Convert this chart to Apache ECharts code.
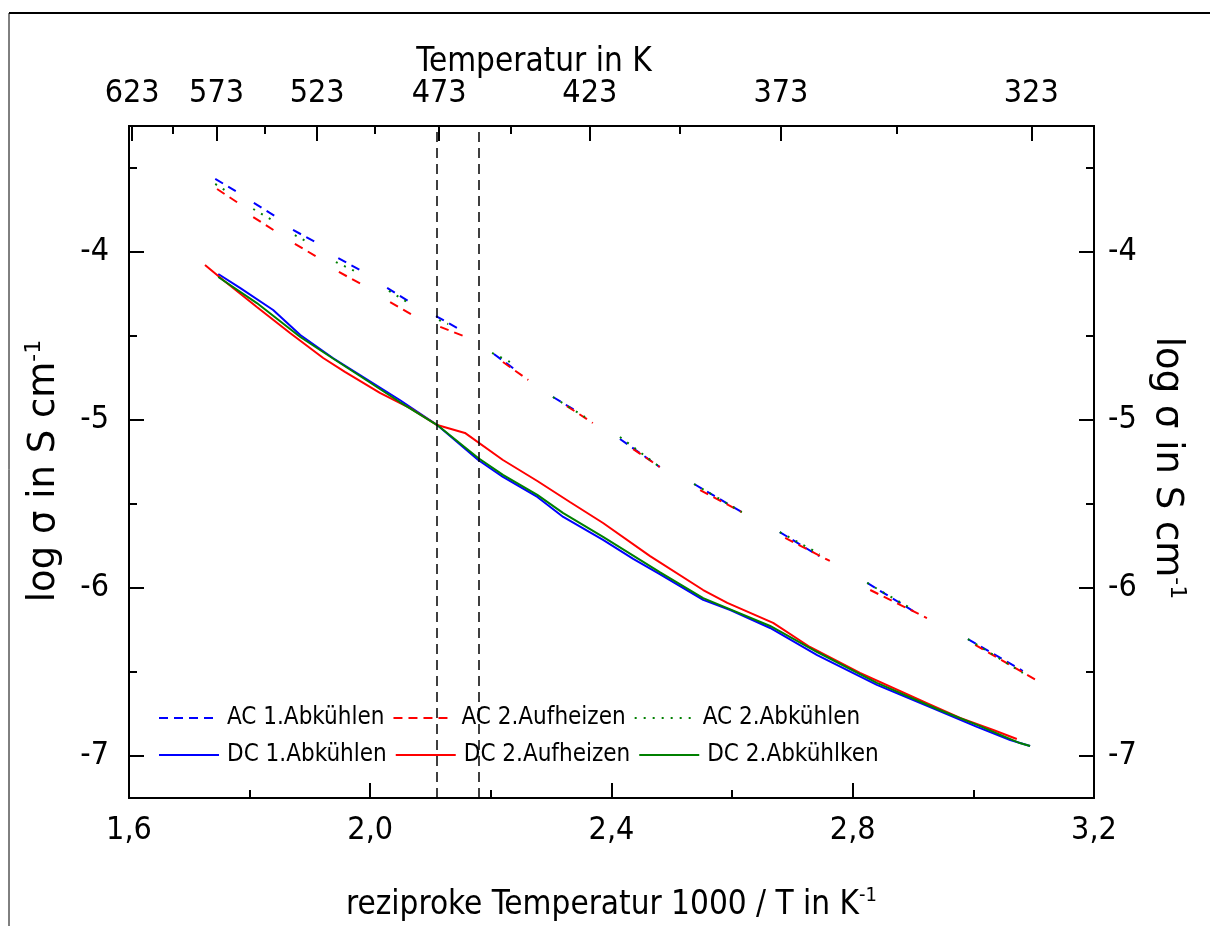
<!DOCTYPE html>
<html>
<head>
<meta charset="utf-8">
<script src="https://cdn.jsdelivr.net/npm/echarts@6/dist/echarts.min.js"></script>
<style>
html,body{margin:0;padding:0;background:#fff;}
#chart{width:1210px;height:926px;}
</style>
</head>
<body>
<div id="chart"></div>
<script>
// ---------- data (x = 1000/T in 1/K, y = log sigma) ----------
const seriesNames = ['AC 1.Abkühlen','AC 2.Aufheizen','AC 2.Abkühlen','DC 1.Abkühlen','DC 2.Aufheizen','DC 2.Abkühlken'];

// AC data: short measured runs, separated by null (gaps between temperature steps)
const ac1Abkuehlen = [
  [1.743,-3.565],[1.777,-3.637],null,
  [1.807,-3.708],[1.842,-3.786],null,
  [1.872,-3.869],[1.912,-3.946],null,
  [1.947,-4.036],[1.986,-4.113],null,
  [2.028,-4.214],[2.066,-4.298],null,
  [2.109,-4.381],[2.150,-4.464],null,
  [2.205,-4.607],[2.243,-4.708],null,
  [2.303,-4.863],[2.344,-4.952],null,
  [2.414,-5.113],[2.480,-5.280],null,
  [2.537,-5.381],[2.616,-5.548],null,
  [2.679,-5.667],[2.744,-5.810],null,
  [2.824,-5.970],[2.903,-6.143],null,
  [2.991,-6.304],[3.082,-6.494]
];
const ac2Aufheizen = [
  [1.746,-3.625],[1.781,-3.708],null,
  [1.806,-3.792],[1.842,-3.875],null,
  [1.875,-3.952],[1.915,-4.036],null,
  [1.948,-4.119],[1.991,-4.202],null,
  [2.033,-4.298],[2.073,-4.381],null,
  [2.116,-4.446],[2.159,-4.506],null,
  [2.220,-4.655],[2.262,-4.762],null,
  [2.326,-4.917],[2.369,-5.018],null,
  [2.436,-5.173],[2.480,-5.280],null,
  [2.547,-5.417],[2.616,-5.548],null,
  [2.688,-5.702],[2.762,-5.839],null,
  [2.829,-6.012],[2.923,-6.179],null,
  [3.003,-6.339],[3.104,-6.548]
];
const ac2Abkuehlen = [
  [1.743,-3.595],[1.761,-3.637],null,
  [1.806,-3.744],[1.840,-3.815],null,
  [1.875,-3.899],[1.893,-3.935],null,
  [1.943,-4.060],[1.981,-4.125],null,
  [2.031,-4.232],[2.064,-4.304],null,
  [2.114,-4.405],[2.129,-4.429],null,
  [2.202,-4.601],[2.232,-4.655],null,
  [2.303,-4.863],[2.356,-4.982],null,
  [2.414,-5.101],[2.480,-5.280],null,
  [2.537,-5.381],[2.616,-5.548],null,
  [2.679,-5.667],[2.745,-5.798],null,
  [2.824,-5.970],[2.895,-6.119],null,
  [2.991,-6.304],[3.082,-6.506]
];
const dc1Abkuehlen = [
  [1.748,-4.131],[1.784,-4.214],[1.839,-4.345],[1.884,-4.494],[1.938,-4.631],
  [1.983,-4.732],[2.049,-4.881],[2.111,-5.030],[2.179,-5.238],[2.220,-5.339],
  [2.277,-5.458],[2.320,-5.577],[2.386,-5.714],[2.436,-5.827],[2.480,-5.917],
  [2.552,-6.071],[2.597,-6.131],[2.663,-6.238],[2.741,-6.399],[2.840,-6.577],
  [2.940,-6.726],[3.006,-6.827],[3.061,-6.905],[3.094,-6.940]
];
const dc2Aufheizen = [
  [1.726,-4.077],[1.756,-4.167],[1.812,-4.327],[1.867,-4.482],[1.922,-4.631],
  [1.958,-4.714],[2.016,-4.839],[2.066,-4.929],[2.111,-5.030],[2.157,-5.077],
  [2.220,-5.238],[2.277,-5.363],[2.331,-5.488],[2.386,-5.613],[2.464,-5.810],
  [2.552,-6.012],[2.592,-6.089],[2.668,-6.208],[2.729,-6.351],[2.812,-6.506],
  [2.923,-6.685],[2.978,-6.774],[3.033,-6.845],[3.072,-6.899]
];
const dc2Abkuehlken = [
  [1.748,-4.149],[1.812,-4.304],[1.884,-4.506],[1.942,-4.643],[1.983,-4.738],
  [2.049,-4.893],[2.111,-5.030],[2.179,-5.226],[2.220,-5.327],[2.277,-5.446],
  [2.320,-5.554],[2.386,-5.696],[2.480,-5.905],[2.552,-6.060],[2.663,-6.226],
  [2.741,-6.381],[2.840,-6.565],[2.940,-6.720],[3.006,-6.815],[3.077,-6.923],
  [3.094,-6.940]
];
// vertical reference lines (1000/T)
const refLines = [2.112, 2.179];

// ---------- axes / ticks ----------
const xMin = 1.6, xMax = 3.2, xInterval = 0.4;
const yMin = -7.25, yMax = -3.25;
const yMajorTicks = [-7, -6, -5, -4];
const yMinorTicks = [-6.5, -5.5, -4.5, -3.5];
const topMajorTemps = [623, 573, 523, 473, 423, 373, 323];
const topMinorTemps = [598, 548, 498, 448, 398, 348];

const FONT = '"DejaVu Sans Condensed", "Liberation Sans Narrow", "DejaVu Sans", sans-serif';
const FONT_V = '"DejaVu Sans", sans-serif';
const topMajorPos = topMajorTemps.map(t => 1000 / t);
const topMinorPos = topMinorTemps.map(t => 1000 / t);

const chart = echarts.init(document.getElementById('chart'), null, {renderer: 'canvas'});

const axisLine = {show: true, lineStyle: {color: '#000', width: 2}};
const labelStyle = {color: '#000', fontFamily: FONT, fontSize: 32};

const titleRichH = {
  t: {fontFamily: FONT, fontSize: 33, color: '#000', lineHeight: 38},
  s: {fontFamily: FONT, fontSize: 20, color: '#000', verticalAlign: 'top', lineHeight: 38, padding: [0,0,14,0]}
};
const titleRichV = {
  t: {fontFamily: FONT_V, fontSize: 37, color: '#000', lineHeight: 42},
  s: {fontFamily: FONT_V, fontSize: 22, color: '#000', verticalAlign: 'top', lineHeight: 42, padding: [0,0,15,0]}
};
const legendText = {color: '#000', fontFamily: FONT, fontSize: 24, lineHeight: 26, padding: [0,0,0,3]};

const option = {
  animation: false,
  backgroundColor: '#fff',
  grid: {left: 129, right: 116, top: 126, bottom: 128, containLabel: false, outerBoundsMode: 'none'},
  xAxis: [
    {
      type: 'value', position: 'bottom', min: xMin, max: xMax, interval: xInterval,
      axisLine: axisLine,
      axisTick: {show: true, inside: true, length: 15, lineStyle: {color: '#000', width: 2}},
      minorTick: {show: true, splitNumber: 2, length: 8, lineStyle: {color: '#000', width: 2}},
      splitLine: {show: false}, minorSplitLine: {show: false},
      axisLabel: Object.assign({margin: 17, formatter: v => v.toFixed(1).replace('.', ',')}, labelStyle),
      name: '{t|reziproke Temperatur 1000 / T in K}{s|-1}',
      nameLocation: 'middle', nameGap: 88,
      nameTextStyle: {rich: titleRichH}
    },
    {
      type: 'value', position: 'top', min: xMin, max: xMax,
      axisLine: axisLine,
      axisTick: {show: true, inside: true, length: 15, customValues: topMajorPos, lineStyle: {color: '#000', width: 2}},
      splitLine: {show: false},
      axisLabel: Object.assign({margin: 16, customValues: topMajorPos,
        formatter: v => String(Math.round(1000 / v))}, labelStyle)
    },
    {
      type: 'value', position: 'top', min: xMin, max: xMax,
      axisLine: axisLine,
      axisTick: {show: true, inside: true, length: 8, customValues: topMinorPos, lineStyle: {color: '#000', width: 2}},
      splitLine: {show: false},
      axisLabel: {show: false}
    }
  ],
  yAxis: [
    {
      type: 'value', position: 'left', min: yMin, max: yMax,
      axisLine: axisLine,
      axisTick: {show: true, inside: true, length: 15, customValues: yMajorTicks, lineStyle: {color: '#000', width: 2}},
      splitLine: {show: false},
      axisLabel: Object.assign({margin: 20, customValues: yMajorTicks}, labelStyle),
      name: '{t|log σ in S cm}{s|-1}', nameLocation: 'middle', nameGap: 64, nameRotate: 90,
      nameTextStyle: {rich: titleRichV, padding: [0, 18, 0, 0]}
    },
    {
      type: 'value', position: 'right', min: yMin, max: yMax,
      axisLine: axisLine,
      axisTick: {show: true, inside: true, length: 15, customValues: yMajorTicks, lineStyle: {color: '#000', width: 2}},
      splitLine: {show: false},
      axisLabel: Object.assign({margin: 14, customValues: yMajorTicks}, labelStyle),
      name: '{t|log σ in S cm}{s|-1}', nameLocation: 'middle', nameGap: 52, nameRotate: -90,
      nameTextStyle: {rich: titleRichV, padding: [0, 0, 0, 12]}
    },
    {
      type: 'value', position: 'left', min: yMin, max: yMax,
      axisLine: axisLine,
      axisTick: {show: true, inside: true, length: 8, customValues: yMinorTicks, lineStyle: {color: '#000', width: 2}},
      splitLine: {show: false}, axisLabel: {show: false}
    },
    {
      type: 'value', position: 'right', min: yMin, max: yMax,
      axisLine: axisLine,
      axisTick: {show: true, inside: true, length: 8, customValues: yMinorTicks, lineStyle: {color: '#000', width: 2}},
      splitLine: {show: false}, axisLabel: {show: false}
    }
  ],
  legend: [
    {
      data: seriesNames.slice(0, 3), left: 158, top: 705, orient: 'horizontal',
      itemWidth: 60, itemHeight: 14, itemGap: 8, padding: 0, textStyle: legendText,
      itemStyle: {opacity: 0}
    },
    {
      data: seriesNames.slice(3), left: 158, top: 742, orient: 'horizontal',
      itemWidth: 60, itemHeight: 14, itemGap: 8, padding: 0, textStyle: legendText,
      itemStyle: {opacity: 0}
    }
  ],
  graphic: [
    {type: 'text', x: 534, y: 62, style: {text: 'Temperatur in K', font: '33px ' + '"DejaVu Sans Condensed", "DejaVu Sans", sans-serif', fill: '#000', align: 'center', verticalAlign: 'middle'}},
    {type: 'line', shape: {x1: 9, y1: 13, x2: 1210, y2: 13}, style: {stroke: '#000', lineWidth: 2}},
    {type: 'line', shape: {x1: 9, y1: 13, x2: 9, y2: 926}, style: {stroke: '#000', lineWidth: 1}}
  ],
  series: [
    {name: seriesNames[0], type: 'line', data: ac1Abkuehlen, symbol: 'none', connectNulls: false,
     lineStyle: {color: '#0000ff', width: 2, type: [9, 6]}, itemStyle: {color: '#0000ff'}},
    {name: seriesNames[1], type: 'line', data: ac2Aufheizen, symbol: 'none', connectNulls: false,
     lineStyle: {color: '#ff0000', width: 2, type: [9, 6]}, itemStyle: {color: '#ff0000'}},
    {name: seriesNames[2], type: 'line', data: ac2Abkuehlen, symbol: 'none', connectNulls: false,
     lineStyle: {color: '#008000', width: 2, type: [2, 7]}, itemStyle: {color: '#008000'}},
    {name: seriesNames[3], type: 'line', data: dc1Abkuehlen, symbol: 'none',
     lineStyle: {color: '#0000ff', width: 2}, itemStyle: {color: '#0000ff'},
     markLine: {silent: true, symbol: 'none', label: {show: false},
       lineStyle: {color: '#000', width: 1.5, type: [10, 6]},
       data: refLines.map(v => ({xAxis: v}))}},
    {name: seriesNames[4], type: 'line', data: dc2Aufheizen, symbol: 'none',
     lineStyle: {color: '#ff0000', width: 2}, itemStyle: {color: '#ff0000'}},
    {name: seriesNames[5], type: 'line', data: dc2Abkuehlken, symbol: 'none',
     lineStyle: {color: '#008000', width: 2}, itemStyle: {color: '#008000'}}
  ]
};
chart.setOption(option);
</script>
</body>
</html>
